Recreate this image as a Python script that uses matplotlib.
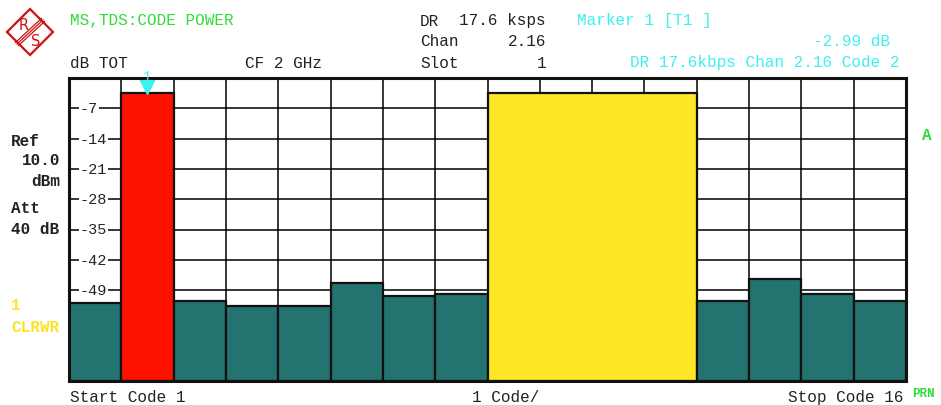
import matplotlib
matplotlib.use('Agg')
import matplotlib.pyplot as plt
from matplotlib.patches import Polygon
import numpy as np

# code domain power per channel (dB relative to total)
bar_start = [1, 2, 3, 4, 5, 6, 7, 8, 9, 13, 14, 15, 16]
bar_ncodes = [1, 1, 1, 1, 1, 1, 1, 1, 4, 1, 1, 1, 1]
bar_level = [-51.9, -3.4, -51.5, -52.6, -52.6, -47.3, -50.4, -49.9, -3.4,
             -51.5, -46.5, -49.8, -51.5]
bar_kind = ['idle', 'marker', 'idle', 'idle', 'idle', 'idle', 'idle', 'idle',
            'active', 'idle', 'idle', 'idle', 'idle']
y_ticks = [-7, -14, -21, -28, -35, -42, -49, -56, -63]
marker_code = 2

W, H = 941, 406
fig = plt.figure(figsize=(W / 100, H / 100), dpi=100)
ax = fig.add_axes([69 / W, 1 - 382 / H, (906 - 69) / W, (382 - 79) / H])

FONT = 'Liberation Mono'
BLACK = '#222222'
GREEN = '#2fdc3a'
CYAN = '#3ff0f0'
YELLOW = '#ffe22a'
colors = {'idle': '#237370', 'marker': '#ff1100', 'active': '#ffe626'}

y_bottom = -70
ax.set_xlim(0.5, 16.5)
ax.set_ylim(y_bottom, 0)

for y in y_ticks:
    ax.axhline(y, color='black', lw=1.1, zorder=1)
for x in np.arange(1.5, 16.5, 1):
    ax.axvline(x, color='black', lw=1.1, zorder=1)

for y in y_ticks:
    ax.text(0.013, y, '-' + str(-y),
            transform=ax.get_yaxis_transform(), ha='left', va='center',
            fontsize=11, family=FONT, color=BLACK, zorder=1.5,
            bbox=dict(facecolor='white', edgecolor='none', pad=0.5))

starts = np.array(bar_start) - 0.5
widths = np.array(bar_ncodes)
heights = np.array(bar_level) - y_bottom
ax.bar(starts, heights, width=widths, bottom=y_bottom, align='edge',
       color=[colors[k] for k in bar_kind], edgecolor='#111111', lw=1.6, zorder=2)

# marker triangle on top of bar
m_level = bar_level[bar_start.index(marker_code)]
ax.plot([marker_code], [m_level + 1.5], marker='v', ms=11, color=CYAN,
        mec=CYAN, clip_on=False, zorder=5)
ax.text(marker_code, m_level + 3.9, '1', ha='center', va='center',
        fontsize=10, family=FONT, color=CYAN, clip_on=False, zorder=7)

ax.set_xticks([])
ax.set_yticks([])
for s in ax.spines.values():
    s.set_linewidth(2.2)
    s.set_color('#111111')
    s.set_zorder(6)


def ptext(x, y, s, color=BLACK, ha='left', size=11.5, weight='normal'):
    fig.text(x / W, 1 - y / H, s, ha=ha, va='center', fontsize=size,
             family=FONT, color=color, weight=weight)


# header
ptext(70, 21, 'MS,TDS:CODE POWER', GREEN)
ptext(70, 63, 'dB TOT')
ptext(245, 63, 'CF 2 GHz')
ptext(420, 21, 'DR')
ptext(546, 21, '17.6 ksps', ha='right')
ptext(420, 42, 'Chan')
ptext(546, 42, '2.16', ha='right')
ptext(420, 63, 'Slot')
ptext(546, 63, '1', ha='right')
ptext(577, 21, 'Marker 1 [T1 ]', CYAN)
ptext(890, 42, '-2.99 dB', CYAN, ha='right')
ptext(900, 63, 'DR 17.6kbps Chan 2.16 Code 2', CYAN, ha='right')

# left side
ptext(11, 141, 'Ref', weight='bold')
ptext(22, 161, '10.0', weight='bold')
ptext(31, 182, 'dBm', weight='bold')
ptext(11, 209, 'Att', weight='bold')
ptext(11, 230, '40 dB', weight='bold')
ptext(11, 305, '1', YELLOW, weight='bold')
ptext(11, 328, 'CLRWR', YELLOW, weight='bold')
ptext(927, 135, 'A', GREEN, ha='center', weight='bold')

# footer
ptext(70, 398, 'Start Code 1')
ptext(472, 398, '1 Code/')
ptext(903, 398, 'Stop Code 16', ha='right')
ptext(912, 394, 'PRN', GREEN, size=9, weight='bold')

# R&S logo
RED = '#cc1111'
cx, cy, r = 30, 33, 23
diamond = [(cx - r, cy), (cx, cy - r), (cx + r, cy), (cx, cy + r)]
fig.patches.append(Polygon([(x / W, 1 - y / H) for x, y in diamond], closed=True,
                           fill=False, edgecolor=RED, lw=1.6,
                           transform=fig.transFigure))
for off in (-2.2, 0, 2.2):
    x0, y0 = cx - 13 + off * 0.7, cy + 12 + off * 0.7
    x1, y1 = cx + 13 + off * 0.7, cy - 12 + off * 0.7
    fig.add_artist(plt.Line2D([x0 / W, x1 / W], [1 - y0 / H, 1 - y1 / H],
                              color=RED, lw=0.9, transform=fig.transFigure))
fig.text((cx - 6) / W, 1 - (cy - 8) / H, 'R', ha='center', va='center',
         fontsize=10.5, family='DejaVu Sans', color=RED)
fig.text((cx + 6) / W, 1 - (cy + 9) / H, 'S', ha='center', va='center',
         fontsize=10.5, family='DejaVu Sans', color=RED)

fig.savefig('out.png', dpi=100, facecolor='white')
